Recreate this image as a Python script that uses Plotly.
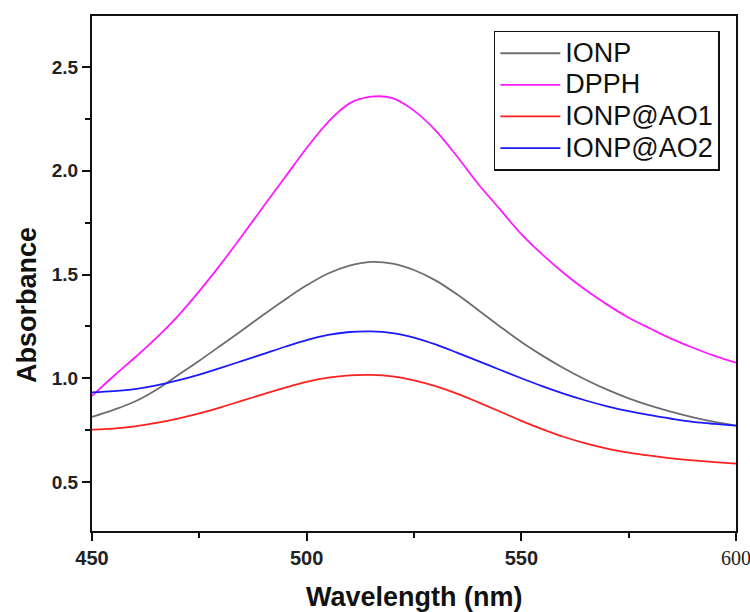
import plotly.graph_objects as go

wavelength = [450, 455, 460, 465, 470, 475, 480, 485, 490, 495, 500, 505, 510, 515, 520,
              525, 530, 535, 540, 545, 550, 555, 560, 565, 570, 575, 580, 585, 590, 595, 600]

ionp = [0.814, 0.848, 0.888, 0.945, 1.015, 1.085, 1.158, 1.232, 1.307, 1.380, 1.448, 1.505,
        1.543, 1.561, 1.553, 1.522, 1.472, 1.405, 1.328, 1.250, 1.175, 1.108, 1.047, 0.993,
        0.945, 0.903, 0.868, 0.838, 0.812, 0.790, 0.772]

dpph = [0.915, 1.010, 1.100, 1.195, 1.300, 1.420, 1.550, 1.688, 1.830, 1.970, 2.110, 2.235,
        2.325, 2.357, 2.350, 2.290, 2.195, 2.070, 1.935, 1.815, 1.695, 1.595, 1.505, 1.425,
        1.355, 1.292, 1.240, 1.190, 1.147, 1.108, 1.075]

ionp_ao1 = [0.753, 0.757, 0.768, 0.785, 0.806, 0.831, 0.860, 0.892, 0.924, 0.955, 0.983, 1.003,
            1.014, 1.016, 1.009, 0.990, 0.962, 0.926, 0.884, 0.840, 0.795, 0.754, 0.717, 0.686,
            0.661, 0.642, 0.627, 0.614, 0.604, 0.596, 0.589]

ionp_ao2 = [0.932, 0.938, 0.948, 0.966, 0.990, 1.018, 1.050, 1.084, 1.118, 1.152, 1.184, 1.209,
            1.223, 1.226, 1.218, 1.196, 1.163, 1.124, 1.083, 1.041, 1.000, 0.961, 0.925, 0.893,
            0.865, 0.842, 0.822, 0.805, 0.790, 0.780, 0.772]

series_names = ["IONP", "DPPH", "IONP@AO1", "IONP@AO2"]
series_values = [ionp, dpph, ionp_ao1, ionp_ao2]
series_colors = ["#6e6e6e", "#ff1aff", "#ff2020", "#1a1aff"]

x_tickvals = [450, 500, 550, 600]
x_ticktext = ["<b>450</b>", "<b>500</b>", "<b>550</b>",
              "<span style='font-family:Liberation Serif, Times New Roman, serif;font-size:20px'>600</span>"]

fig = go.Figure()
for name, vals, col in zip(series_names, series_values, series_colors):
    fig.add_trace(go.Scatter(
        x=wavelength, y=vals, mode="lines",
        name=f"<span style='font-size:27px'>{name}</span>",
        line=dict(color=col, width=1.8, shape="spline", smoothing=1.0),
    ))

sans = "Liberation Sans, Arial, sans-serif"

fig.update_layout(
    width=750, height=612,
    margin=dict(l=92, r=14, t=16, b=81, autoexpand=False),
    paper_bgcolor="white", plot_bgcolor="white",
    showlegend=True,
    legend=dict(
        x=0.624, y=0.971, xanchor="left", yanchor="top",
        bordercolor="#111111", borderwidth=1.5, bgcolor="rgba(255,255,255,0)",
        font=dict(family=sans, size=22, color="#111111"),
        tracegroupgap=0, itemwidth=60,
    ),
    xaxis=dict(
        range=[450, 600], showgrid=False, zeroline=False, automargin=False,
        showline=True, linecolor="#111111", linewidth=2, mirror=True,
        ticks="outside", ticklen=8, tickwidth=2, tickcolor="#111111",
        tickvals=x_tickvals, ticktext=x_ticktext, ticklabeloverflow="allow",
        tickfont=dict(family=sans, size=20, color="#222222"),
        minor=dict(ticks="outside", ticklen=5, tickwidth=2, tickcolor="#111111", dtick=25, tick0=450),
    ),
    yaxis=dict(
        range=[0.264, 2.746], showgrid=False, zeroline=False, automargin=False,
        showline=True, linecolor="#111111", linewidth=2, mirror=True,
        ticks="outside", ticklen=8, tickwidth=2, tickcolor="#111111",
        tick0=0.5, dtick=0.5, tickformat=".1f",
        tickfont=dict(family=sans, size=19, color="#222222", weight="bold"),
        minor=dict(ticks="outside", ticklen=5, tickwidth=2, tickcolor="#111111", dtick=0.25, tick0=0.25),
    ),
    annotations=[
        dict(text="<b>Absorbance</b>", xref="paper", yref="paper", x=-0.1, y=0.438,
             xanchor="center", yanchor="middle", textangle=-90, showarrow=False,
             font=dict(family=sans, size=27, color="#111111")),
        dict(text="<b>Wavelength (nm)</b>", xref="paper", yref="paper", x=0.5, y=-0.128,
             xanchor="center", yanchor="middle", showarrow=False,
             font=dict(family=sans, size=27, color="#111111")),
    ],
)

fig.write_html(
    "out.html",
    config={"displayModeBar": False},
    post_script="document.body.style.margin='0';document.body.style.overflow='hidden';",
)
